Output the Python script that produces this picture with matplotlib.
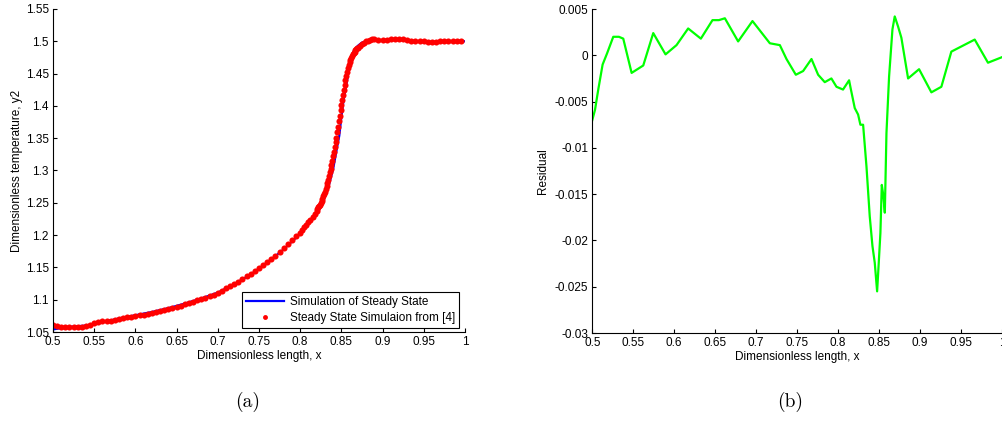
import numpy as np
import matplotlib
matplotlib.use("Agg")
import matplotlib.pyplot as plt
from matplotlib.ticker import FormatStrFormatter

# red dots (reference solution)
# x grid is finer where the curve is steep
x_red = np.round(np.concatenate([np.linspace(0.5, 0.795, 60),      # step 0.005
                                 np.linspace(0.8, 0.8175, 8),      # step 0.0025
                                 np.linspace(0.82, 0.869, 50),     # step 0.001
                                 np.linspace(0.87, 0.8875, 8),     # step 0.0025
                                 np.linspace(0.89, 0.995, 22)]), 4)  # step 0.005
y_red = [1.061, 1.060, 1.058, 1.057, 1.057, 1.057, 1.057, 1.058, 1.059, 1.061,
         1.064, 1.066, 1.067, 1.067, 1.067, 1.068, 1.070, 1.072, 1.073, 1.074,
         1.075, 1.076, 1.077, 1.078, 1.080, 1.081, 1.083, 1.084, 1.086, 1.087,
         1.089, 1.091, 1.093, 1.095, 1.097, 1.099, 1.101, 1.103, 1.106, 1.108,
         1.111, 1.114, 1.118, 1.121, 1.125, 1.128, 1.132, 1.136, 1.140, 1.145,
         1.149, 1.153, 1.158, 1.163, 1.168, 1.174, 1.180, 1.186, 1.192, 1.198,
         # 0.8 .. 0.8175
         1.204, 1.208, 1.212, 1.216, 1.220, 1.224, 1.228, 1.233,
         # 0.820 .. 0.869
         1.238, 1.240, 1.243, 1.245, 1.247, 1.250, 1.253, 1.256, 1.260, 1.263,
         1.267, 1.271, 1.276, 1.281, 1.286, 1.291, 1.297, 1.303, 1.309, 1.315,
         1.322, 1.329, 1.336, 1.344, 1.351, 1.359, 1.367, 1.376, 1.384, 1.393,
         1.401, 1.409, 1.417, 1.425, 1.433, 1.440, 1.447, 1.453, 1.459, 1.464,
         1.468, 1.471, 1.474, 1.477, 1.480, 1.482, 1.484, 1.486, 1.488, 1.489,
         # 0.87 .. 0.8875
         1.490, 1.493, 1.496, 1.498, 1.500, 1.501, 1.502, 1.503,
         # 0.89 .. 0.995
         1.503, 1.502, 1.502, 1.502, 1.503, 1.503, 1.503, 1.503, 1.502, 1.501,
         1.500, 1.500, 1.500, 1.499, 1.499, 1.499, 1.500, 1.500, 1.501, 1.501,
         1.501, 1.500]

# blue line (simulation)
x_blue = [0.5, 0.51, 0.52, 0.53, 0.54, 0.55, 0.56, 0.57, 0.58, 0.6, 0.62, 0.64,
          0.66, 0.68, 0.7, 0.72, 0.74, 0.76, 0.78, 0.8, 0.81, 0.82, 0.825, 0.83,
          0.835, 0.84, 0.845, 0.8475, 0.85, 0.8525, 0.855, 0.8575, 0.86, 0.8625,
          0.865, 0.87, 0.875, 0.88, 0.9, 0.92, 0.94, 0.96, 0.98, 1.0]
y_blue = [1.054, 1.056, 1.058, 1.059, 1.060, 1.062, 1.066, 1.068, 1.071, 1.076,
          1.081, 1.087, 1.094, 1.102, 1.111, 1.124, 1.139, 1.157, 1.178, 1.202,
          1.217, 1.234, 1.243, 1.259, 1.278, 1.302, 1.337, 1.354, 1.382, 1.407,
          1.425, 1.443, 1.464, 1.476, 1.485, 1.493, 1.498, 1.500, 1.502, 1.503,
          1.500, 1.499, 1.500, 1.500]

# residual (b)
x_res = [0.5, 0.5033, 0.5073, 0.5126, 0.518, 0.5256, 0.5325, 0.5378, 0.548, 0.5622,
         0.5744, 0.5894, 0.6028, 0.617, 0.6325, 0.6467, 0.6545, 0.6618, 0.678, 0.6955,
         0.7167, 0.7289, 0.737, 0.7484, 0.7573, 0.7675, 0.7756, 0.7837, 0.7918, 0.798,
         0.806, 0.8134, 0.8154, 0.8203, 0.8244, 0.8272, 0.8305, 0.8346, 0.8386, 0.8419,
         0.8447, 0.8476, 0.8496, 0.8516, 0.8533, 0.8553, 0.857, 0.859, 0.8622, 0.8663,
         0.8691, 0.8732, 0.8772, 0.8854, 0.8988, 0.9138, 0.926, 0.9382, 0.9667, 0.9829,
         1.0]
y_res = [-0.0070, -0.0059, -0.0037, -0.0010, 0.0002, 0.0020, 0.0020, 0.0018, -0.0019, -0.0011,
         0.0024, 0.0001, 0.0011, 0.0029, 0.0018, 0.0038, 0.0038, 0.0040, 0.0015, 0.0037,
         0.0013, 0.0011, -0.0004, -0.0021, -0.0017, -0.0004, -0.0021, -0.0029, -0.0025, -0.0034,
         -0.0037, -0.0027, -0.0036, -0.0057, -0.0064, -0.0075, -0.0075, -0.0120, -0.0174, -0.0206,
         -0.0224, -0.0255, -0.0224, -0.0192, -0.0140, -0.0152, -0.0170, -0.0084, -0.0023, 0.0028,
         0.0042, 0.0031, 0.0019, -0.0025, -0.0015, -0.0040, -0.0034, 0.0004, 0.0017, -0.0008,
         -0.0002]

plt.rcParams['font.family'] = ['Liberation Sans', 'DejaVu Sans']
plt.rcParams['font.size'] = 8.5

fig = plt.figure(figsize=(10.02, 4.36), dpi=100)

def style(ax):
    # matlab look: box off, ticks inside
    ax.spines['top'].set_visible(False)
    ax.spines['right'].set_visible(False)
    ax.tick_params(direction='in', length=3, width=0.8, pad=3, labelsize=8.5)
    ax.xaxis.set_major_formatter(FormatStrFormatter('%g'))
    ax.yaxis.set_major_formatter(FormatStrFormatter('%g'))

# (a)
ax1 = fig.add_axes([0.0529, 0.2385, 0.4111, 0.7409])
ax1.plot(x_blue, y_blue, color='blue', lw=1.6, label='Simulation of Steady State')
ax1.plot(x_red, y_red, 'o', color='red', ms=4.4, mew=0, label='Steady State Simulaion from [4]')
ax1.set_xlim(0.5, 1.0)
ax1.set_ylim(1.05, 1.55)
ax1.set_xticks(np.round(np.arange(0.5, 1.001, 0.05), 2))
ax1.set_yticks(np.round(np.arange(1.05, 1.551, 0.05), 2))
ax1.set_xlabel('Dimensionless length, x', labelpad=1)
ax1.set_ylabel('Dimensionless temperature, y2', labelpad=2)
style(ax1)
leg = ax1.legend(loc='lower right', bbox_to_anchor=(0.9854, 0.0124), borderaxespad=0,
                 fancybox=False, framealpha=1, edgecolor='black', fontsize=8.5,
                 handlelength=3.2, borderpad=0.35, labelspacing=0.35, handletextpad=0.5,
                 markerscale=0.8)
leg.get_frame().set_linewidth(0.8)

# (b)
ax2 = fig.add_axes([0.5911, 0.2362, 0.4089, 0.7431])
ax2.plot(x_res, y_res, color=(0, 1, 0), lw=1.6)
ax2.set_xlim(0.5, 1.0)
ax2.set_ylim(-0.03, 0.005)
ax2.set_xticks(np.round(np.arange(0.5, 1.001, 0.05), 2))
ax2.set_yticks(np.round(np.arange(-0.03, 0.0051, 0.005), 3))
ax2.set_xlabel('Dimensionless length, x', labelpad=1)
ax2.set_ylabel('Residual', labelpad=4)
style(ax2)

fig.text(248 / 1002, 1 - 402 / 436, '(a)', fontname='cmr10', fontsize=14, ha='center', va='center')
fig.text(790 / 1002, 1 - 402 / 436, '(b)', fontname='cmr10', fontsize=14, ha='center', va='center')

fig.savefig('out.png', dpi=100)
